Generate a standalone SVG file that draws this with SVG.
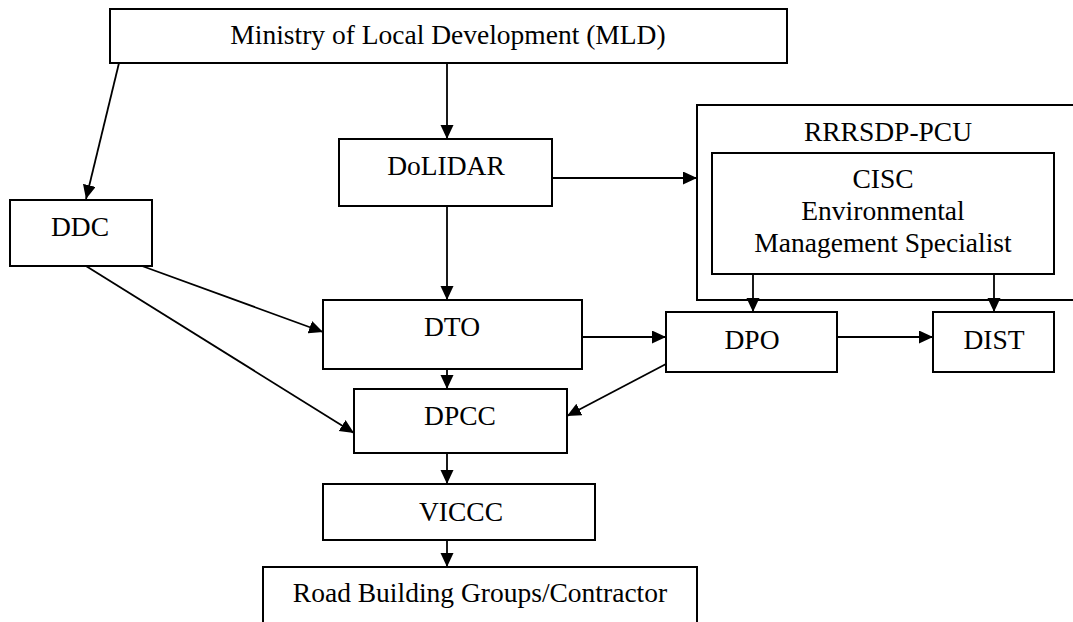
<svg xmlns="http://www.w3.org/2000/svg" width="1073" height="622" viewBox="0 0 1073 622">
<style>
  .box { fill: #fff; stroke: #000; stroke-width: 2; }
  .frame { fill: none; stroke: #000; stroke-width: 2; }
  text { font-family: 'Liberation Serif', 'Times New Roman', 'DejaVu Serif', serif; font-size: 27.5px; fill: #000; text-anchor: middle; }
  .edge { stroke: #000; stroke-width: 1.8; fill: none; marker-end: url(#arr); }
</style>
<defs>
  <marker id="arr" markerUnits="userSpaceOnUse" markerWidth="15" markerHeight="14" refX="14" refY="6.5" orient="auto">
    <path d="M0,0 L14,6.5 L0,13 Z" fill="#000"/>
  </marker>
</defs>
<rect width="1073" height="622" fill="#fff"/>

<g id="rrrsdp-pcu">
  <rect class="frame" x="697" y="105" width="400" height="195"/>
  <text x="888" y="141" font-family="Liberation Serif, serif">RRRSDP-PCU</text>
</g>
<g id="cisc">
  <rect class="box" x="712" y="153" width="342" height="121"/>
  <text x="883" y="188" font-family="Liberation Serif, serif">CISC</text>
  <text x="883" y="220" font-family="Liberation Serif, serif">Environmental</text>
  <text x="883" y="252" font-family="Liberation Serif, serif">Management Specialist</text>
</g>

<g id="connectors">
  <line class="edge" x1="119" y1="63" x2="86" y2="199"/>
  <line class="edge" x1="447" y1="63" x2="447" y2="139"/>
  <line class="edge" x1="447" y1="206" x2="447" y2="300"/>
  <line class="edge" x1="552" y1="178" x2="697" y2="178"/>
  <line class="edge" x1="142" y1="266" x2="323" y2="332"/>
  <line class="edge" x1="86" y1="266" x2="354" y2="433"/>
  <line class="edge" x1="447" y1="369" x2="447" y2="389"/>
  <line class="edge" x1="582" y1="337" x2="666" y2="337"/>
  <line class="edge" x1="837" y1="337" x2="933" y2="337"/>
  <line class="edge" x1="753" y1="274" x2="753" y2="312"/>
  <line class="edge" x1="994" y1="274" x2="994" y2="312"/>
  <line class="edge" x1="666" y1="364" x2="567" y2="416"/>
  <line class="edge" x1="447" y1="453" x2="447" y2="484"/>
  <line class="edge" x1="447" y1="540" x2="447" y2="567"/>
</g>

<g id="mld">
  <rect class="box" x="110" y="9" width="677" height="54"/>
  <text x="448" y="44" font-family="Liberation Serif, serif">Ministry of Local Development (MLD)</text>
</g>
<g id="dolidar">
  <rect class="box" x="339" y="139" width="213" height="67"/>
  <text x="446" y="175" font-family="Liberation Serif, serif">DoLIDAR</text>
</g>
<g id="ddc">
  <rect class="box" x="10" y="200" width="142" height="66"/>
  <text x="80" y="236" font-family="Liberation Serif, serif">DDC</text>
</g>
<g id="dto">
  <rect class="box" x="323" y="300" width="259" height="69"/>
  <text x="452" y="336" font-family="Liberation Serif, serif">DTO</text>
</g>
<g id="dpo">
  <rect class="box" x="666" y="312" width="171" height="60"/>
  <text x="752" y="349" font-family="Liberation Serif, serif">DPO</text>
</g>
<g id="dist">
  <rect class="box" x="933" y="312" width="121" height="60"/>
  <text x="994" y="349" font-family="Liberation Serif, serif">DIST</text>
</g>
<g id="dpcc">
  <rect class="box" x="354" y="389" width="213" height="64"/>
  <text x="460" y="425" font-family="Liberation Serif, serif">DPCC</text>
</g>
<g id="viccc">
  <rect class="box" x="323" y="484" width="272" height="56"/>
  <text x="461" y="521" font-family="Liberation Serif, serif">VICCC</text>
</g>
<g id="road">
  <rect class="box" x="263" y="567" width="434" height="80"/>
  <text x="480" y="602" font-family="Liberation Serif, serif">Road Building Groups/Contractor</text>
</g>
</svg>
